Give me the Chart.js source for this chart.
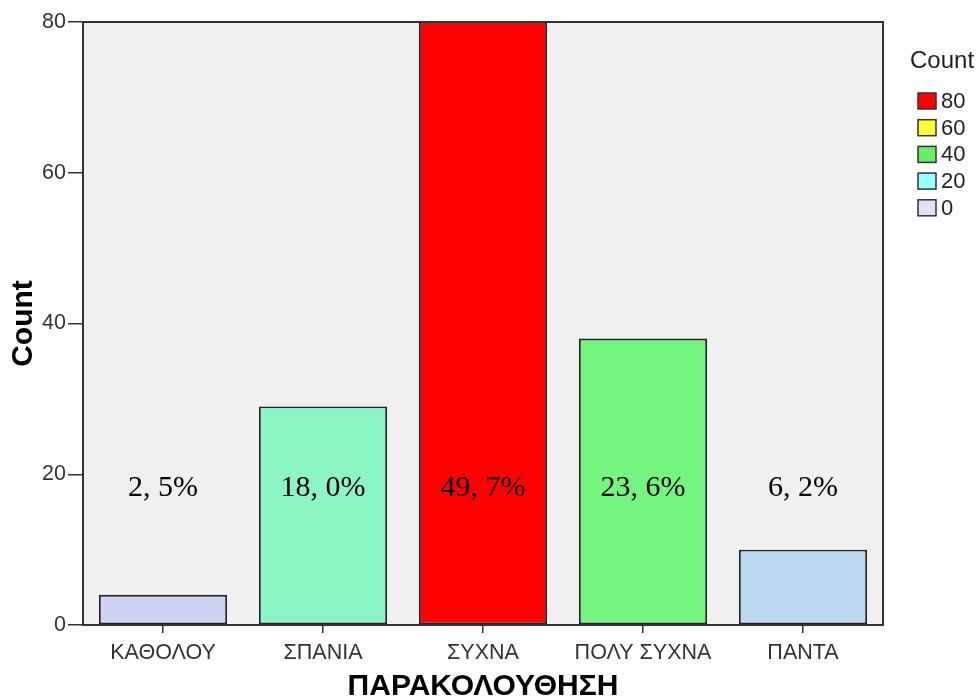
<!DOCTYPE html>
<html>
<head>
<meta charset="utf-8">
<script src="https://cdn.jsdelivr.net/npm/chart.js@4/dist/chart.umd.min.js"></script>
<style>
  html, body { margin: 0; padding: 0; background: #fff; }
  #wrap { width: 980px; height: 697px; }
</style>
</head>
<body>
<div id="wrap"><canvas id="myChart" width="980" height="697"></canvas></div>
<script>
// data
const categories = ['ΚΑΘΟΛΟΥ', 'ΣΠΑΝΙΑ', 'ΣΥΧΝΑ', 'ΠΟΛΥ ΣΥΧΝΑ', 'ΠΑΝΤΑ'];
const counts = [4, 29, 80, 38, 10];
const percentLabels = ['2, 5%', '18, 0%', '49, 7%', '23, 6%', '6, 2%'];
const barColors = ['#ccd4f1', '#8cf5c5', '#ff0000', '#74f57f', '#bdd8f1'];
const yTicks = [0, 20, 40, 60, 80];
const legendTitle = 'Count';
const legendLabels = ['80', '60', '40', '20', '0'];
const legendColors = ['#ff0000', '#ffff33', '#66ee66', '#99ffff', '#e0e0fa'];

const sans = '"Liberation Sans", Arial, sans-serif';

// grey plot background + frame, percentages, gradient legend
const spssPlugin = {
    id: 'spss',
    beforeDatasetsDraw(chart) {
        const a = chart.chartArea, c = chart.ctx;
        c.save();
        c.fillStyle = '#f0f0f0';
        c.fillRect(a.left, a.top, a.right - a.left, a.bottom - a.top);
        c.restore();
    },
    afterDatasetsDraw(chart) {
        const a = chart.chartArea, c = chart.ctx;
        const xs = chart.scales.x, ys = chart.scales.y;
        c.save();
        c.strokeStyle = '#333';
        c.lineWidth = 2;
        c.strokeRect(a.left, a.top, a.right - a.left, a.bottom - a.top);
        c.fillStyle = '#000';
        c.font = '30px "Liberation Serif", "Times New Roman", serif';
        c.textAlign = 'center';
        c.textBaseline = 'middle';
        percentLabels.forEach((t, i) => {
            c.fillText(t, xs.getPixelForValue(i), ys.getPixelForValue(18.1));
        });
        // legend
        c.textAlign = 'left';
        c.fillStyle = '#222';
        c.font = '24px ' + sans;
        c.fillText(legendTitle, 910, 61);
        c.font = '22px ' + sans;
        legendLabels.forEach((t, i) => {
            const y = 93 + i * 26.7;
            c.fillStyle = legendColors[i];
            c.fillRect(918, y, 18, 16);
            c.strokeStyle = '#333';
            c.lineWidth = 1.5;
            c.strokeRect(918, y, 18, 16);
            c.fillStyle = '#222';
            c.fillText(t, 941, y + 9);
        });
        c.restore();
    }
};

let ctx = document.getElementById('myChart').getContext('2d');
const data = {
    labels: categories,
    datasets: [{
        data: counts,
        backgroundColor: barColors,
        borderColor: '#222',
        borderWidth: 1.8,
        borderSkipped: false,
        barPercentage: 0.8,
        categoryPercentage: 1.0,
    }]
};
const config = {
    type: 'bar',
    data,
    plugins: [spssPlugin],
    options: {
        responsive: false,
        animation: false,
        layout: { padding: { top: 22, right: 97, left: 0, bottom: 0 } },
        plugins: { legend: { display: false }, tooltip: { enabled: false } },
        scales: {
            x: {
                grid: { display: true, offset: false, drawOnChartArea: false, tickLength: 8, color: '#333', lineWidth: 1.5 },
                border: { display: false },
                ticks: { color: '#333', font: { family: sans, size: 21.5 }, padding: 7, maxRotation: 0 },
                title: { display: true, text: 'ΠΑΡΑΚΟΛΟΥΘΗΣΗ', color: '#000', font: { family: sans, size: 30, weight: 'bold', lineHeight: 1 }, padding: { top: 0, bottom: -5 } },
                afterFit(s) { s.height = 72; }
            },
            y: {
                min: 0, max: 80,
                afterBuildTicks(s) { s.ticks = yTicks.map(v => ({ value: v })); },
                grid: { display: true, drawOnChartArea: false, tickLength: 15, color: '#333', lineWidth: 1.5 },
                border: { display: false },
                ticks: { color: '#333', font: { family: sans, size: 21.5 }, padding: 2 },
                title: { display: true, text: 'Count', color: '#000', font: { family: sans, size: 30, weight: 'bold', lineHeight: 1 }, padding: { top: 9, bottom: 0 } },
                afterFit(s) { s.width = 83; }
            }
        }
    }
};
let chart = new Chart(ctx, config);
</script>
</body>
</html>
